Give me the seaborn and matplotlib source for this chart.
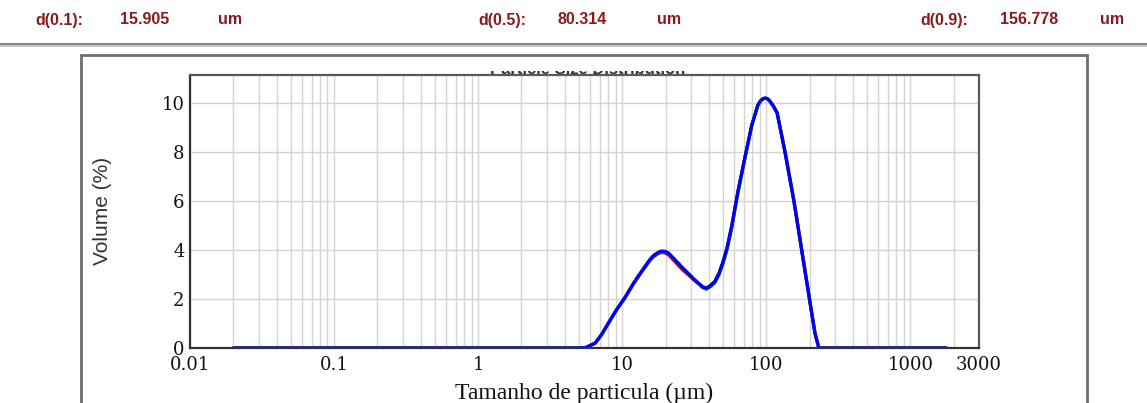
import matplotlib
matplotlib.use("Agg")
import matplotlib.pyplot as plt
import matplotlib.patches as patches
from matplotlib.lines import Line2D
from matplotlib.ticker import LogLocator, NullFormatter
import numpy as np
import pandas as pd
import seaborn as sns

# particle size (um) and volume (%)
size_um = [0.02, 0.1, 1.0, 5.0, 5.6, 6.5, 7.2, 8.0, 9.0, 10.5, 12.0, 13.8, 15.5,
           16.5, 17.7, 18.5, 19.2, 20.0, 21.0, 23.3, 26.0, 28.6, 32.0, 36.3,
           38.5, 41.0, 44.0, 47.0, 50.0, 53.5, 57.7, 63.5, 71.0, 79.4, 87.3,
           91.0, 94.0, 97.0, 100.0, 103.0, 107.0, 112.0, 119.0, 135.0, 156.0,
           177.0, 201.0, 218.0, 232.0, 300.0, 1000.0, 1780.0]
vol_blue = [0.0, 0.0, 0.0, 0.0, 0.02, 0.2, 0.55, 1.0, 1.5, 2.08, 2.65, 3.18, 3.6,
            3.78, 3.9, 3.95, 3.96, 3.94, 3.88, 3.6, 3.3, 3.06, 2.78, 2.5,
            2.45, 2.55, 2.72, 3.05, 3.5, 4.1, 5.0, 6.37, 7.76, 9.1, 9.9,
            10.08, 10.16, 10.2, 10.2, 10.16, 10.05, 9.88, 9.6, 8.0, 5.96,
            3.92, 1.88, 0.6, 0.0, 0.0, 0.0, 0.0]
vol_green = [0.0, 0.0, 0.0, 0.0, 0.02, 0.2, 0.55, 1.0, 1.5, 2.08, 2.65, 3.16, 3.57,
             3.74, 3.86, 3.91, 3.92, 3.9, 3.86, 3.6, 3.3, 3.06, 2.76, 2.46,
             2.4, 2.5, 2.66, 2.98, 3.42, 4.02, 4.92, 6.3, 7.72, 9.08, 9.9,
             10.08, 10.16, 10.2, 10.2, 10.16, 10.05, 9.88, 9.6, 8.0, 5.96,
             3.92, 1.88, 0.6, 0.0, 0.0, 0.0, 0.0]
vol_red = [0.0, 0.0, 0.0, 0.0, 0.02, 0.2, 0.55, 1.0, 1.5, 2.06, 2.62, 3.14, 3.55,
           3.72, 3.85, 3.89, 3.9, 3.87, 3.8, 3.52, 3.22, 3.0, 2.74, 2.48,
           2.44, 2.55, 2.72, 3.05, 3.5, 4.1, 5.0, 6.37, 7.76, 9.1, 9.9,
           10.08, 10.16, 10.2, 10.2, 10.16, 10.06, 9.9, 9.62, 8.05, 6.02,
           3.98, 1.92, 0.62, 0.0, 0.0, 0.0, 0.0]

x_ticks = [0.01, 0.1, 1, 10, 100, 1000, 3000]
x_tick_labels = ["0.01", "0.1", "1", "10", "100", "1000", "3000"]
y_ticks = [0, 2, 4, 6, 8, 10]

header = [("d(0.1):", "15.905", "um"), ("d(0.5):", "80.314", "um"), ("d(0.9):", "156.778", "um")]

df = pd.concat([
    pd.DataFrame({"size": size_um, "vol": vol_red, "run": "red"}),
    pd.DataFrame({"size": size_um, "vol": vol_green, "run": "green"}),
    pd.DataFrame({"size": size_um, "vol": vol_blue, "run": "blue"}),
])

sns.set_style("white")
W, H = 1147, 403
fig = plt.figure(figsize=(W / 100, H / 100), dpi=100)

def fx(px):
    return px / W

def fy(py):
    return 1 - py / H

# header with the d-values
hdr_color = "#8b1a1a"
for (lab, val, unit), (x0, x1, x2) in zip(header, [(35, 120, 218), (478, 557, 657), (920, 1000, 1100)]):
    for s, xp in ((lab, x0), (val, x1), (unit, x2)):
        fig.text(fx(xp), fy(20), s, color=hdr_color, fontsize=11.5, fontweight="bold",
                 family="Liberation Sans", ha="left", va="center")

fig.add_artist(Line2D([0, 1], [fy(43.5), fy(43.5)], color="#8a8a8a", lw=2.2))
fig.add_artist(Line2D([0, 1], [fy(46), fy(46)], color="#c8c8c8", lw=1.2))

# outer frame
fig.add_artist(patches.Rectangle((fx(81), fy(420)), fx(1087 - 81), (420 - 55) / H,
                                 fill=False, edgecolor="#6e6e6e", lw=2.0))

ax = fig.add_axes([fx(190), fy(348), fx(979 - 190), (348 - 75) / H])
sns.lineplot(data=df, x="size", y="vol", hue="run", hue_order=["red", "green", "blue"],
             palette={"red": "#d00000", "green": "#008000", "blue": "#0000ff"},
             sort=False, estimator=None, lw=2.3, legend=False, ax=ax)

ax.set_xscale("log")
ax.set_xlim(0.01, 3000)
ax.set_ylim(0, 11.15)
ax.set_xticks(x_ticks)
ax.set_xticklabels(x_tick_labels)
ax.xaxis.set_minor_locator(LogLocator(base=10, subs=np.arange(2, 10)))
ax.xaxis.set_minor_formatter(NullFormatter())
ax.set_yticks(y_ticks)
ax.grid(True, which="both", axis="x", color="#d4d4d4", lw=1.0)
ax.grid(True, which="major", axis="y", color="#d4d4d4", lw=1.0)
ax.set_axisbelow(True)
ax.tick_params(which="both", length=0)
ax.tick_params(axis="x", pad=6)
ax.tick_params(axis="y", pad=4)
for lbl in ax.get_xticklabels() + ax.get_yticklabels():
    lbl.set_family("DejaVu Serif")
    lbl.set_fontsize(13)
    lbl.set_color("#111111")
for side in ["left", "bottom"]:
    ax.spines[side].set_color("#333333")
    ax.spines[side].set_linewidth(1.6)
for side in ["top", "right"]:
    ax.spines[side].set_color("#5a5a5a")
    ax.spines[side].set_linewidth(1.6)

ax.set_xlabel("Tamanho de particula (\u00b5m)", family="Liberation Serif", fontsize=17,
              color="#111111", labelpad=6)
ax.set_ylabel("")
fig.text(fx(103), fy(211), "Volume (%)", rotation=90, family="Liberation Sans",
         fontsize=15, color="#333333", ha="center", va="center")

# title hidden behind the frame, only its lower edge shows
fig.text(fx(588), fy(74), "Particle Size Distribution", family="Liberation Sans",
         fontsize=12, fontweight="bold", color="#333333", ha="center", va="baseline",
         zorder=5)
fig.add_artist(patches.Rectangle((fx(460), fy(70.5)), fx(270), (70.5 - 57) / H,
                                 facecolor="white", edgecolor="none", zorder=6))

fig.savefig("out.png", dpi=100)
